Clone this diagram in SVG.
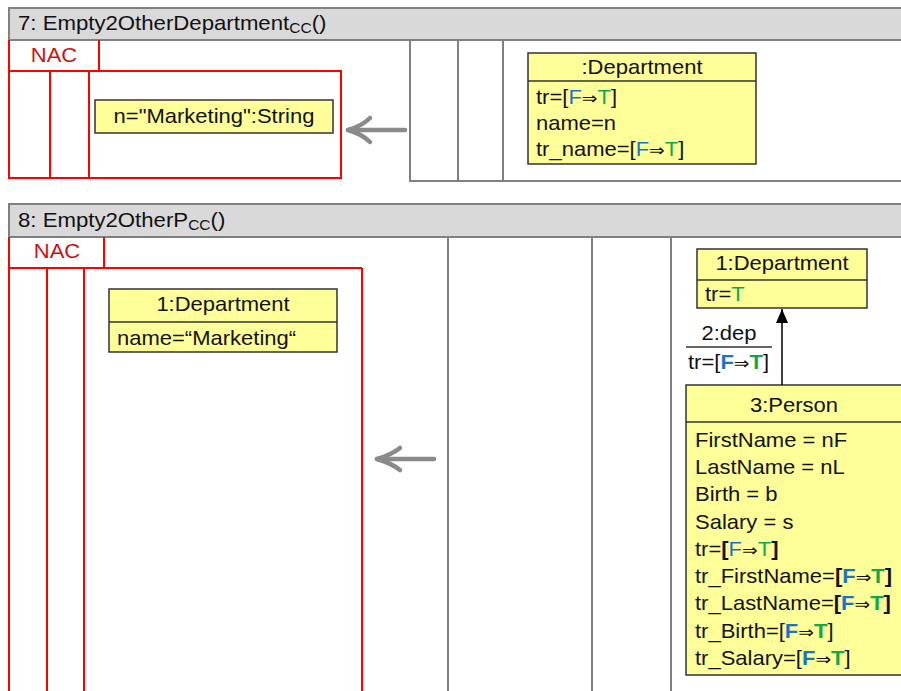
<svg xmlns="http://www.w3.org/2000/svg" width="901" height="691" viewBox="0 0 901 691">
<style>
.t{font-family:"Liberation Sans",Arial,"DejaVu Sans",sans-serif;font-size:20px;fill:#111}
.m{text-anchor:middle}
.nac{fill:#cc1010}
.b{fill:#1a73c8}
.g{fill:#10a84a}
.bd{font-weight:bold}
.ar{font-size:17px}
.hdr{fill:#d9d9d9;stroke:#808080;stroke-width:2}
.gl{fill:none;stroke:#808080;stroke-width:2}
.rl{fill:none;stroke:#ff0000;stroke-width:2}
.node{fill:#ffff99;stroke:#333;stroke-width:1.5}
.sep{stroke:#333;stroke-width:1.5}
.arr{fill:none;stroke:#8a8a8a;stroke-width:4.5;stroke-linecap:round;stroke-linejoin:round}
</style>
<defs>
<marker id="ah" markerWidth="14" markerHeight="18" refX="14" refY="9" orient="auto" markerUnits="userSpaceOnUse">
<path d="M0,3 L14,9 L0,15 Z" fill="#000"/>
</marker>
</defs>
<rect width="901" height="691" fill="#fff"/>

<!-- Section 7 -->
<g id="rule7">
<rect class="hdr" x="9" y="8" width="900" height="32"/>
<text class="t" transform="translate(18 30) scale(1.11 1)">7: Empty2OtherDepartment<tspan font-size="14" dy="3">CC</tspan><tspan dy="-3">()</tspan></text>
<path class="gl" d="M410,40 V181 H905 M458,40 V181 M503,40 V181"/>
</g>
<g id="nac7">
<path class="rl" d="M9,40 V71 H99 V40 M9,71 V178 H341 V71 H99 M50,71 V178 M89,71 V178"/>
<text class="t nac m" transform="translate(54 62) scale(1.1 1)">NAC</text>
</g>
<g id="node7n">
<rect class="node" x="95" y="100" width="238" height="33"/>
<text class="t m" transform="translate(214 123) scale(1.1 1)">n="Marketing":String</text>
</g>
<g id="node7dep">
<rect class="node" x="528" y="53" width="228" height="111"/>
<line class="sep" x1="528" y1="81" x2="756" y2="81"/>
<text class="t m" transform="translate(642 74) scale(1.1 1)">:Department</text>
<text class="t" transform="translate(536 104) scale(1.1 1)">tr=[<tspan class="b">F</tspan><tspan class="ar">⇒</tspan><tspan class="g">T</tspan>]</text>
<text class="t" transform="translate(536 130) scale(1.1 1)">name=n</text>
<text class="t" transform="translate(536 156) scale(1.1 1)">tr_name=[<tspan class="b">F</tspan><tspan class="ar">⇒</tspan><tspan class="g">T</tspan>]</text>
</g>

<!-- Section 8 -->
<g id="rule8">
<rect class="hdr" x="9" y="204" width="900" height="33"/>
<text class="t" transform="translate(18 227) scale(1.11 1)">8: Empty2OtherP<tspan font-size="14" dy="3">CC</tspan><tspan dy="-3">()</tspan></text>
<path class="gl" d="M448,237 V695 M592,237 V695 M671,237 V695"/>
</g>
<g id="nac8">
<path class="rl" d="M9,237 V268 H104 V237 M9,268 V695 M362,268 V695 M104,268 H362 M47,268 V695 M84,268 V695"/>
<text class="t nac m" transform="translate(57 258) scale(1.1 1)">NAC</text>
</g>
<g id="node8nacdep">
<rect class="node" x="109" y="289" width="228" height="63"/>
<line class="sep" x1="109" y1="322" x2="337" y2="322"/>
<text class="t m" transform="translate(223 311) scale(1.1 1)">1:Department</text>
<text class="t" transform="translate(117 345) scale(1.1 1)">name=“Marketing“</text>
</g>
<g id="node8dep">
<rect class="node" x="697" y="249" width="170" height="59"/>
<line class="sep" x1="697" y1="280" x2="867" y2="280"/>
<text class="t m" transform="translate(782 270) scale(1.1 1)">1:Department</text>
<text class="t" transform="translate(705 301) scale(1.1 1)">tr=<tspan class="g">T</tspan></text>
</g>
<g id="node8person">
<rect class="node" x="686" y="385" width="222" height="290"/>
<line class="sep" x1="686" y1="422" x2="908" y2="422"/>
<text class="t m" transform="translate(794 412) scale(1.1 1)">3:Person</text>
<text class="t" transform="translate(695 447) scale(1.1 1)">FirstName = nF</text>
<text class="t" transform="translate(695 474) scale(1.1 1)">LastName = nL</text>
<text class="t" transform="translate(695 501) scale(1.1 1)">Birth = b</text>
<text class="t" transform="translate(695 529) scale(1.1 1)">Salary = s</text>
<text class="t" transform="translate(695 556) scale(1.1 1)">tr=<tspan class="bd">[</tspan><tspan class="b">F</tspan><tspan class="ar">⇒</tspan><tspan class="g">T</tspan><tspan class="bd">]</tspan></text>
<text class="t" transform="translate(695 583) scale(1.1 1)">tr_FirstName=<tspan class="bd">[</tspan><tspan class="b bd">F</tspan><tspan class="ar">⇒</tspan><tspan class="g bd">T</tspan><tspan class="bd">]</tspan></text>
<text class="t" transform="translate(695 610) scale(1.1 1)">tr_LastName=<tspan class="bd">[</tspan><tspan class="b bd">F</tspan><tspan class="ar">⇒</tspan><tspan class="g bd">T</tspan><tspan class="bd">]</tspan></text>
<text class="t" transform="translate(695 638) scale(1.1 1)">tr_Birth=[<tspan class="b bd">F</tspan><tspan class="ar">⇒</tspan><tspan class="g bd">T</tspan>]</text>
<text class="t" transform="translate(695 665) scale(1.1 1)">tr_Salary=[<tspan class="b bd">F</tspan><tspan class="ar">⇒</tspan><tspan class="g bd">T</tspan>]</text>
</g>

<g id="connectors">
<path class="arr" d="M405,130 H348"/>
<path class="arr" stroke-width="4" d="M370,118 Q362,126 348,130 Q362,134 370,142"/>
<path class="arr" d="M434,459 H377"/>
<path class="arr" stroke-width="4" d="M400,448 Q391,455 377,459 Q391,463 400,470"/>
<line x1="782" y1="385" x2="782" y2="309" stroke="#000" stroke-width="1.5" marker-end="url(#ah)"/>
<text class="t m" transform="translate(729 340) scale(1.1 1)">2:dep</text>
<line x1="686" y1="347" x2="772" y2="347" stroke="#333" stroke-width="1.5"/>
<text class="t" transform="translate(688 369) scale(1.1 1)">tr=[<tspan class="b bd">F</tspan><tspan class="ar">⇒</tspan><tspan class="g bd">T</tspan>]</text>
</g>
</svg>
